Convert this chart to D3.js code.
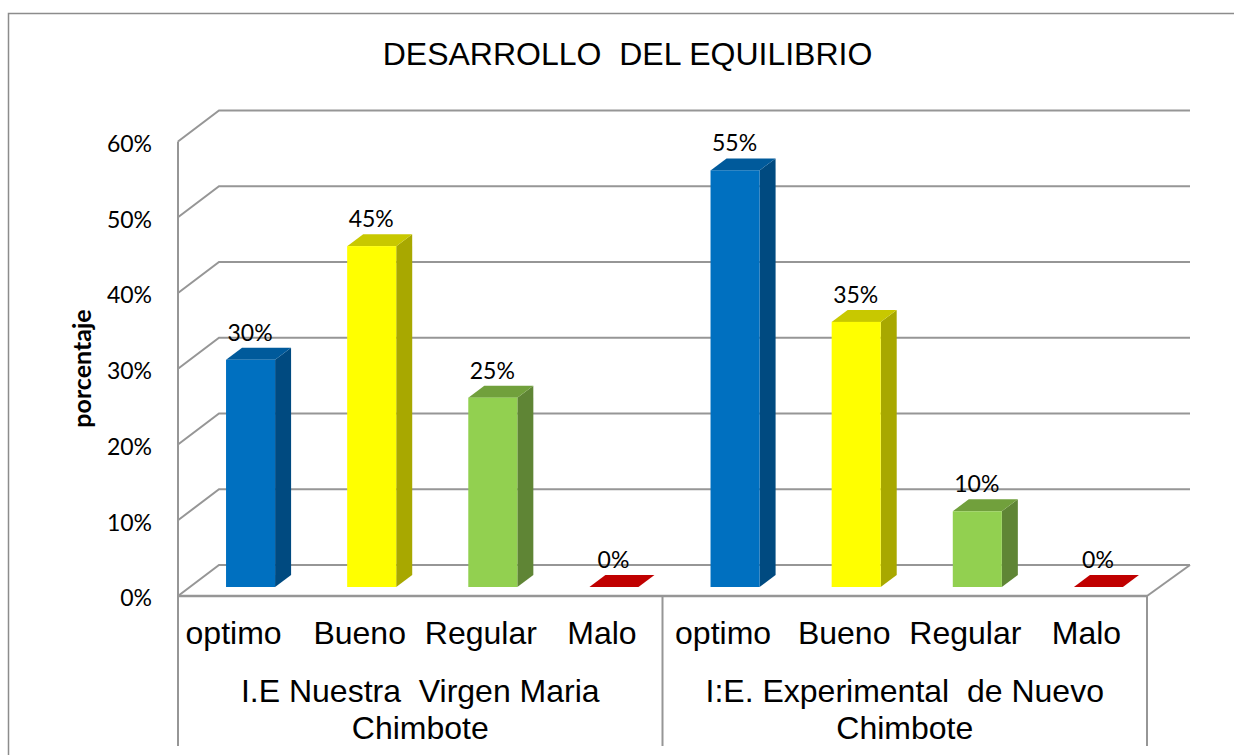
<!DOCTYPE html>
<html><head><meta charset="utf-8">
<script src="https://cdn.jsdelivr.net/npm/d3@7/dist/d3.min.js"></script>
<style>html,body{margin:0;padding:0;background:#fff;overflow:hidden}text{white-space:pre}</style>
</head><body><svg id="c" width="1234" height="755"></svg>
<script>
const chartTitle = "DESARROLLO  DEL EQUILIBRIO";
const yAxisTitle = "porcentaje";
const categories = ["optimo","Bueno","Regular","Malo"];
const groupLabels = [["I.E Nuestra  Virgen Maria","Chimbote"],["I:E. Experimental  de Nuevo","Chimbote"]];
const seriesA = [30,45,25,0];
const seriesB = [55,35,10,0];
const yTicks = [0,10,20,30,40,50,60];
const faceColors = ["#0070C0","#FFFF00","#92D050","#C00000"];
const topColors = ["#005A9B","#C8C800","#71A03C","#C00000"];
const sideColors = ["#004A80","#A8A800","#5F8535","#800000"];

const W=1234,H=755, left=178, right=1147, y0=596, y60=141.5, backDx=41, backDy=-31, bottom=746;
const depthX=16, depthY=-12, floorDy=-9, floorDx=12;
const data=[...seriesA.map((v,i)=>({g:0,i,v})),...seriesB.map((v,i)=>({g:1,i,v}))];
const svg=d3.select("#c");
const sans="'Liberation Sans',Arial,sans-serif", lato="Lato,sans-serif";
const y=d3.scaleLinear().domain([0,60]).range([y0,y60]);
const x=d3.scaleBand().domain(d3.range(8)).range([left,right]).paddingInner(0.595).paddingOuter(0.2975);
const cell=d3.scaleBand().domain(d3.range(8)).range([left,right]);
const grp=d3.scaleBand().domain([0,1]).range([left,right]);
const grey="#969696";

svg.append("path").attr("d",`M8.5,${H}V13.5H${W}`).attr("fill","none").attr("stroke","#8c8c8c").attr("stroke-width",1.5);
svg.append("text").attr("x",627.5).attr("y",65).attr("text-anchor","middle").attr("font-family",sans).attr("font-size",32).attr("fill","#000").text(chartTitle);

// walls and gridlines
const gl=svg.append("g").attr("fill","none").attr("stroke",grey).attr("stroke-width",2);
yTicks.forEach(t=>{
  const yy=y(t);
  gl.append("path").attr("d",`M${left},${yy}L${left+backDx},${yy+backDy}H${right+backDx+2}`);
});
gl.append("path").attr("d",`M${right},${y0}L${right+backDx+2},${y0+backDy}`);
gl.append("path").attr("d",`M${left},${y60}V${bottom}`);
gl.append("path").attr("d",`M${left},${y0}H${right}`).attr("stroke-width",2.5);
gl.append("path").attr("d",`M${grp(1)},${y0}V${bottom}M${right},${y0}V${bottom}`);

// y labels
const yAxis=d3.axisLeft(y).tickValues(yTicks).tickFormat(d=>d+"%").tickSize(0).tickPadding(26);
const ga=svg.append("g").attr("transform",`translate(${left},2.5)`).call(yAxis);
ga.select(".domain").remove();
ga.selectAll("text").attr("font-family",lato).attr("font-size",23).attr("fill","#000");
svg.append("text").attr("transform","translate(81,368.5) rotate(-90)").attr("text-anchor","middle").attr("dominant-baseline","central")
  .attr("font-family",lato).attr("font-weight",700).attr("font-size",25).attr("fill","#000").text(yAxisTitle);

// bars
const h=v=>y(0)-y(v);
const base=y0+floorDy;
const bars=svg.append("g").selectAll("g").data(data).join("g");
const bw=x.bandwidth();
const X=d=>x(d.g*4+d.i)+floorDx;
bars.append("path").attr("fill",d=>sideColors[d.i]).attr("d",d=>{const a=X(d)+bw,t=base-h(d.v);
  return `M${a},${t}l${depthX},${depthY}V${base+depthY}L${a},${base}Z`;});
bars.append("path").attr("fill",d=>topColors[d.i]).attr("d",d=>{const a=X(d),t=base-h(d.v);
  return `M${a},${t}l${depthX},${depthY}h${bw}l${-depthX},${-depthY}Z`;});
bars.append("rect").attr("fill",d=>faceColors[d.i]).attr("x",X).attr("width",bw).attr("y",d=>base-h(d.v)).attr("height",d=>h(d.v));
bars.append("text").attr("x",d=>X(d)+bw/2-0.5).attr("y",d=>base-h(d.v)-28).attr("text-anchor","middle").attr("dominant-baseline","central")
  .attr("font-family",lato).attr("font-size",23).attr("fill","#000").text(d=>d.v+"%");

// category labels
const lab=svg.append("g").attr("font-family",sans).attr("font-size",32).attr("fill","#000").attr("text-anchor","middle");
d3.range(8).forEach(k=>{
  lab.append("text").attr("x",cell(k)+cell.bandwidth()/2-(k===0?5:0)).attr("y",644).text(categories[k%4]);
});
groupLabels.forEach((ls,g)=>ls.forEach((s,j)=>{
  lab.append("text").attr("x",grp(g)+grp.bandwidth()/2).attr("y",702+j*36.5).text(s);
}));
</script></body></html>
